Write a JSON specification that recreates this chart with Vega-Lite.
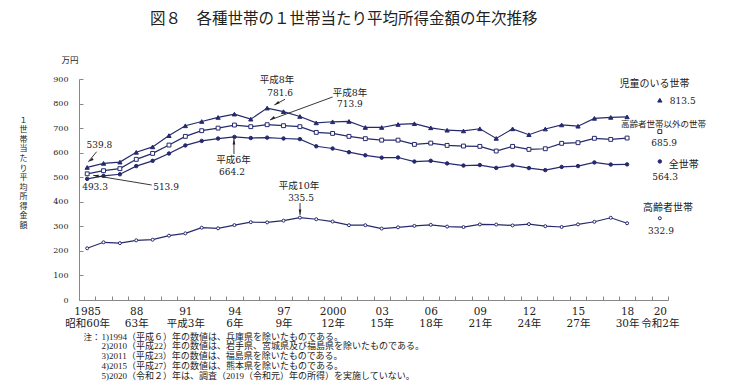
{
  "$schema": "https://vega.github.io/schema/vega-lite/v6.json",
  "width": 589,
  "height": 221,
  "autosize": {"type": "none"},
  "padding": {"left": 79, "top": 79, "right": 84, "bottom": 88},
  "background": "white",
  "config": {
    "view": {"stroke": null},
    "font": "Noto Sans CJK JP",
    "axis": {"labelOverlap": false, "labelFlush": false, "grid": false, "labelBound": false}
  },
  "resolve": {"axis": {"x": "independent", "y": "independent"}},
  "title": {
    "text": "図８　各種世帯の１世帯当たり平均所得金額の年次推移",
    "anchor": "start",
    "frame": "group",
    "dx": 71,
    "offset": 29,
    "fontSize": 15.5,
    "fontWeight": "normal",
    "font": "Noto Sans CJK JP",
    "color": "#222222"
  },
  "datasets": {
    "series": [
      {"year": 1985, "value": 539.8, "series": "児童のいる世帯"},
      {"year": 1986, "value": 556.4, "series": "児童のいる世帯"},
      {"year": 1987, "value": 561.5, "series": "児童のいる世帯"},
      {"year": 1988, "value": 601.5, "series": "児童のいる世帯"},
      {"year": 1989, "value": 623.5, "series": "児童のいる世帯"},
      {"year": 1990, "value": 669.5, "series": "児童のいる世帯"},
      {"year": 1991, "value": 709.5, "series": "児童のいる世帯"},
      {"year": 1992, "value": 727.0, "series": "児童のいる世帯"},
      {"year": 1993, "value": 743.5, "series": "児童のいる世帯"},
      {"year": 1994, "value": 757.0, "series": "児童のいる世帯"},
      {"year": 1995, "value": 736.5, "series": "児童のいる世帯"},
      {"year": 1996, "value": 781.6, "series": "児童のいる世帯"},
      {"year": 1997, "value": 767.1, "series": "児童のいる世帯"},
      {"year": 1998, "value": 747.4, "series": "児童のいる世帯"},
      {"year": 1999, "value": 721.4, "series": "児童のいる世帯"},
      {"year": 2000, "value": 725.8, "series": "児童のいる世帯"},
      {"year": 2001, "value": 727.2, "series": "児童のいる世帯"},
      {"year": 2002, "value": 702.7, "series": "児童のいる世帯"},
      {"year": 2003, "value": 702.6, "series": "児童のいる世帯"},
      {"year": 2004, "value": 714.9, "series": "児童のいる世帯"},
      {"year": 2005, "value": 718.0, "series": "児童のいる世帯"},
      {"year": 2006, "value": 701.2, "series": "児童のいる世帯"},
      {"year": 2007, "value": 691.4, "series": "児童のいる世帯"},
      {"year": 2008, "value": 688.5, "series": "児童のいる世帯"},
      {"year": 2009, "value": 697.3, "series": "児童のいる世帯"},
      {"year": 2010, "value": 658.1, "series": "児童のいる世帯"},
      {"year": 2011, "value": 697.0, "series": "児童のいる世帯"},
      {"year": 2012, "value": 673.2, "series": "児童のいる世帯"},
      {"year": 2013, "value": 696.3, "series": "児童のいる世帯"},
      {"year": 2014, "value": 712.9, "series": "児童のいる世帯"},
      {"year": 2015, "value": 707.8, "series": "児童のいる世帯"},
      {"year": 2016, "value": 739.8, "series": "児童のいる世帯"},
      {"year": 2017, "value": 743.6, "series": "児童のいる世帯"},
      {"year": 2018, "value": 745.9, "series": "児童のいる世帯"},
      {"year": 2020, "value": 813.5, "series": "児童のいる世帯"},
      {"year": 1985, "value": 513.9, "series": "高齢者世帯以外の世帯"},
      {"year": 1986, "value": 526.6, "series": "高齢者世帯以外の世帯"},
      {"year": 1987, "value": 535.0, "series": "高齢者世帯以外の世帯"},
      {"year": 1988, "value": 572.8, "series": "高齢者世帯以外の世帯"},
      {"year": 1989, "value": 597.0, "series": "高齢者世帯以外の世帯"},
      {"year": 1990, "value": 631.0, "series": "高齢者世帯以外の世帯"},
      {"year": 1991, "value": 666.4, "series": "高齢者世帯以外の世帯"},
      {"year": 1992, "value": 689.5, "series": "高齢者世帯以外の世帯"},
      {"year": 1993, "value": 700.0, "series": "高齢者世帯以外の世帯"},
      {"year": 1994, "value": 712.5, "series": "高齢者世帯以外の世帯"},
      {"year": 1995, "value": 705.8, "series": "高齢者世帯以外の世帯"},
      {"year": 1996, "value": 713.9, "series": "高齢者世帯以外の世帯"},
      {"year": 1997, "value": 709.9, "series": "高齢者世帯以外の世帯"},
      {"year": 1998, "value": 705.8, "series": "高齢者世帯以外の世帯"},
      {"year": 1999, "value": 682.6, "series": "高齢者世帯以外の世帯"},
      {"year": 2000, "value": 678.5, "series": "高齢者世帯以外の世帯"},
      {"year": 2001, "value": 666.4, "series": "高齢者世帯以外の世帯"},
      {"year": 2002, "value": 657.0, "series": "高齢者世帯以外の世帯"},
      {"year": 2003, "value": 651.0, "series": "高齢者世帯以外の世帯"},
      {"year": 2004, "value": 651.0, "series": "高齢者世帯以外の世帯"},
      {"year": 2005, "value": 633.7, "series": "高齢者世帯以外の世帯"},
      {"year": 2006, "value": 639.0, "series": "高齢者世帯以外の世帯"},
      {"year": 2007, "value": 629.6, "series": "高齢者世帯以外の世帯"},
      {"year": 2008, "value": 627.0, "series": "高齢者世帯以外の世帯"},
      {"year": 2009, "value": 625.6, "series": "高齢者世帯以外の世帯"},
      {"year": 2010, "value": 606.7, "series": "高齢者世帯以外の世帯"},
      {"year": 2011, "value": 625.6, "series": "高齢者世帯以外の世帯"},
      {"year": 2012, "value": 613.4, "series": "高齢者世帯以外の世帯"},
      {"year": 2013, "value": 616.0, "series": "高齢者世帯以外の世帯"},
      {"year": 2014, "value": 638.0, "series": "高齢者世帯以外の世帯"},
      {"year": 2015, "value": 640.6, "series": "高齢者世帯以外の世帯"},
      {"year": 2016, "value": 658.5, "series": "高齢者世帯以外の世帯"},
      {"year": 2017, "value": 654.0, "series": "高齢者世帯以外の世帯"},
      {"year": 2018, "value": 659.6, "series": "高齢者世帯以外の世帯"},
      {"year": 2020, "value": 685.9, "series": "高齢者世帯以外の世帯"},
      {"year": 1985, "value": 493.3, "series": "全世帯"},
      {"year": 1986, "value": 505.6, "series": "全世帯"},
      {"year": 1987, "value": 512.0, "series": "全世帯"},
      {"year": 1988, "value": 545.3, "series": "全世帯"},
      {"year": 1989, "value": 566.7, "series": "全世帯"},
      {"year": 1990, "value": 596.6, "series": "全世帯"},
      {"year": 1991, "value": 629.5, "series": "全世帯"},
      {"year": 1992, "value": 647.8, "series": "全世帯"},
      {"year": 1993, "value": 657.5, "series": "全世帯"},
      {"year": 1994, "value": 664.2, "series": "全世帯"},
      {"year": 1995, "value": 659.6, "series": "全世帯"},
      {"year": 1996, "value": 661.2, "series": "全世帯"},
      {"year": 1997, "value": 657.7, "series": "全世帯"},
      {"year": 1998, "value": 655.2, "series": "全世帯"},
      {"year": 1999, "value": 626.0, "series": "全世帯"},
      {"year": 2000, "value": 616.9, "series": "全世帯"},
      {"year": 2001, "value": 602.0, "series": "全世帯"},
      {"year": 2002, "value": 589.3, "series": "全世帯"},
      {"year": 2003, "value": 579.7, "series": "全世帯"},
      {"year": 2004, "value": 580.4, "series": "全世帯"},
      {"year": 2005, "value": 563.8, "series": "全世帯"},
      {"year": 2006, "value": 566.8, "series": "全世帯"},
      {"year": 2007, "value": 556.2, "series": "全世帯"},
      {"year": 2008, "value": 547.5, "series": "全世帯"},
      {"year": 2009, "value": 549.6, "series": "全世帯"},
      {"year": 2010, "value": 538.0, "series": "全世帯"},
      {"year": 2011, "value": 548.2, "series": "全世帯"},
      {"year": 2012, "value": 537.2, "series": "全世帯"},
      {"year": 2013, "value": 528.9, "series": "全世帯"},
      {"year": 2014, "value": 541.9, "series": "全世帯"},
      {"year": 2015, "value": 545.4, "series": "全世帯"},
      {"year": 2016, "value": 560.2, "series": "全世帯"},
      {"year": 2017, "value": 551.6, "series": "全世帯"},
      {"year": 2018, "value": 552.3, "series": "全世帯"},
      {"year": 2020, "value": 564.3, "series": "全世帯"},
      {"year": 1985, "value": 210.6, "series": "高齢者世帯"},
      {"year": 1986, "value": 235.0, "series": "高齢者世帯"},
      {"year": 1987, "value": 231.5, "series": "高齢者世帯"},
      {"year": 1988, "value": 243.0, "series": "高齢者世帯"},
      {"year": 1989, "value": 245.6, "series": "高齢者世帯"},
      {"year": 1990, "value": 262.0, "series": "高齢者世帯"},
      {"year": 1991, "value": 271.4, "series": "高齢者世帯"},
      {"year": 1992, "value": 294.5, "series": "高齢者世帯"},
      {"year": 1993, "value": 292.0, "series": "高齢者世帯"},
      {"year": 1994, "value": 305.0, "series": "高齢者世帯"},
      {"year": 1995, "value": 316.9, "series": "高齢者世帯"},
      {"year": 1996, "value": 316.0, "series": "高齢者世帯"},
      {"year": 1997, "value": 323.1, "series": "高齢者世帯"},
      {"year": 1998, "value": 335.5, "series": "高齢者世帯"},
      {"year": 1999, "value": 328.9, "series": "高齢者世帯"},
      {"year": 2000, "value": 319.5, "series": "高齢者世帯"},
      {"year": 2001, "value": 304.6, "series": "高齢者世帯"},
      {"year": 2002, "value": 304.6, "series": "高齢者世帯"},
      {"year": 2003, "value": 290.9, "series": "高齢者世帯"},
      {"year": 2004, "value": 296.1, "series": "高齢者世帯"},
      {"year": 2005, "value": 301.9, "series": "高齢者世帯"},
      {"year": 2006, "value": 306.3, "series": "高齢者世帯"},
      {"year": 2007, "value": 298.9, "series": "高齢者世帯"},
      {"year": 2008, "value": 297.0, "series": "高齢者世帯"},
      {"year": 2009, "value": 307.9, "series": "高齢者世帯"},
      {"year": 2010, "value": 307.2, "series": "高齢者世帯"},
      {"year": 2011, "value": 303.6, "series": "高齢者世帯"},
      {"year": 2012, "value": 309.1, "series": "高齢者世帯"},
      {"year": 2013, "value": 300.5, "series": "高齢者世帯"},
      {"year": 2014, "value": 297.3, "series": "高齢者世帯"},
      {"year": 2015, "value": 308.1, "series": "高齢者世帯"},
      {"year": 2016, "value": 318.6, "series": "高齢者世帯"},
      {"year": 2017, "value": 334.9, "series": "高齢者世帯"},
      {"year": 2018, "value": 312.6, "series": "高齢者世帯"},
      {"year": 2020, "value": 332.9, "series": "高齢者世帯"}
    ],
    "callouts": [
      {"label": "539.8", "kind": "value", "lx": 1985.75, "ly": 631.2},
      {"label": "493.3", "kind": "value", "lx": 1985.48, "ly": 459.0},
      {"label": "513.9", "kind": "value", "lx": 1989.82, "ly": 459.0},
      {"label": "664.2", "kind": "value", "lx": 1993.85, "ly": 522.5},
      {"label": "781.6", "kind": "value", "lx": 1996.79, "ly": 843.0},
      {"label": "713.9", "kind": "value", "lx": 2001.06, "ly": 798.2},
      {"label": "335.5", "kind": "value", "lx": 1998.07, "ly": 415.4},
      {"label": "813.5", "kind": "value", "lx": 2021.4, "ly": 811.6},
      {"label": "685.9", "kind": "value", "lx": 2020.26, "ly": 640.6},
      {"label": "564.3", "kind": "value", "lx": 2020.32, "ly": 499.7},
      {"label": "332.9", "kind": "value", "lx": 2020.07, "ly": 281.0},
      {"label": "平成6年", "kind": "era", "lx": 1993.94, "ly": 570.1},
      {"label": "平成8年", "kind": "era", "lx": 1996.6, "ly": 895.9},
      {"label": "平成8年", "kind": "era", "lx": 2001.06, "ly": 841.7},
      {"label": "平成10年", "kind": "era", "lx": 1997.95, "ly": 464.2},
      {"label": "児童のいる世帯", "kind": "series", "lx": 2019.68, "ly": 879.6},
      {"label": "高齢者世帯以外の世帯", "kind": "series_long", "lx": 2020.23, "ly": 717.0},
      {"label": "全世帯", "kind": "series", "lx": 2021.47, "ly": 549.8},
      {"label": "高齢者世帯", "kind": "series", "lx": 2020.5, "ly": 373.4},
      {"label": "万円", "kind": "unit", "lx": 1983.95, "ly": 977.0},
      {"label": "注：", "kind": "unit", "lx": 1985.3, "ly": -150.7}
    ],
    "arrows": [
      {"id": "a", "x1": 1985.58, "v1": 603.9, "x2": 1985.07, "v2": 563.2},
      {"id": "c", "x1": 1988.94, "v1": 468.3, "x2": 1985.37, "v2": 507.8},
      {"id": "d", "x1": 1993.97, "v1": 594.6, "x2": 1993.97, "v2": 655.6},
      {"id": "e", "x1": 1997.09, "v1": 817.3, "x2": 1996.44, "v2": 794.1},
      {"id": "f", "x1": 2000.0, "v1": 826.7, "x2": 1996.17, "v2": 733.0},
      {"id": "g", "x1": 1998.01, "v1": 395.0, "x2": 1998.01, "v2": 346.1}
    ]
  },
  "layer": [
    {
      "data": {"name": "series"},
      "transform": [{"filter": "datum.year <= 2018"}],
      "mark": {"type": "line", "color": "#262a6c", "strokeWidth": 1.2},
      "encoding": {
        "x": {
          "field": "year",
          "type": "quantitative",
          "scale": {"domain": [1984.5, 2020.5], "nice": false, "zero": false},
          "axis": {
            "orient": "bottom",
            "values": [1984.5, 1985.5, 1986.5, 1987.5, 1988.5, 1989.5, 1990.5, 1991.5, 1992.5, 1993.5, 1994.5, 1995.5, 1996.5, 1997.5, 1998.5, 1999.5, 2000.5, 2001.5, 2002.5, 2003.5, 2004.5, 2005.5, 2006.5, 2007.5, 2008.5, 2009.5, 2010.5, 2011.5, 2012.5, 2013.5, 2014.5, 2015.5, 2016.5, 2017.5, 2018.5, 2019.5, 2020.5],
            "labelExpr": "datum.value==1984.5?['1985','昭和60年']:datum.value==1987.5?['88','63年']:datum.value==1990.5?['91','平成3年']:datum.value==1993.5?['94','6年']:datum.value==1996.5?['97','9年']:datum.value==1999.5?['2000','12年']:datum.value==2002.5?['03','15年']:datum.value==2005.5?['06','18年']:datum.value==2008.5?['09','21年']:datum.value==2011.5?['12','24年']:datum.value==2014.5?['15','27年']:datum.value==2017.5?['18','30年']:datum.value==2019.5?['20','令和2年']:''",
            "labelOffset": 8.18,
            "labelOverlap": false,
            "labelFlush": false,
            "labelFont": "DejaVu Serif, Noto Sans CJK JP",
            "labelFontSize": 10.5,
            "labelLineHeight": 12,
            "labelBaseline": "top",
            "labelPadding": 10,
            "labelColor": "#222222",
            "tickSize": -4,
            "tickColor": "#888888",
            "domainColor": "#888888",
            "grid": false,
            "title": [
              "1)1994（平成６）年の数値は、兵庫県を除いたものである。",
              "2)2010（平成22）年の数値は、岩手県、宮城県及び福島県を除いたものである。",
              "3)2011（平成23）年の数値は、福島県を除いたものである。",
              "4)2015（平成27）年の数値は、熊本県を除いたものである。",
              "5)2020（令和２）年は、調査（2019（令和元）年の所得）を実施していない。"
            ],
            "titleX": 22,
            "titleY": 32,
            "titleAlign": "left",
            "titleAnchor": "start",
            "titleBaseline": "top",
            "titleFont": "Liberation Serif, Noto Sans CJK JP",
            "titleFontSize": 9,
            "titleFontWeight": "normal",
            "titleLineHeight": 9.8,
            "titleColor": "#222222"
          }
        },
        "y": {
          "field": "value",
          "type": "quantitative",
          "scale": {"domain": [0, 900], "nice": false},
          "axis": {
            "orient": "left",
            "values": [0, 100, 200, 300, 400, 500, 600, 700, 800, 900],
            "labelFont": "DejaVu Serif",
            "labelFontSize": 8,
            "labelColor": "#222222",
            "labelPadding": 15,
            "labelFlush": false,
            "labelOverlap": false,
            "tickSize": -4,
            "tickColor": "#888888",
            "domainColor": "#888888",
            "grid": false,
            "title": ["１", "世", "帯", "当", "た", "り", "平", "均", "所", "得", "金", "額"],
            "titleAngle": 0,
            "titleX": -56,
            "titleY": 37,
            "titleAlign": "center",
            "titleBaseline": "top",
            "titleFont": "Liberation Serif, Noto Sans CJK JP",
            "titleFontSize": 8,
            "titleFontWeight": "normal",
            "titleLineHeight": 9.6,
            "titleColor": "#222222"
          }
        },
        "detail": {"field": "series", "type": "nominal"}
      }
    },
    {
      "data": {"name": "series"},
      "mark": {"type": "point", "filled": true, "stroke": "#262a6c", "strokeWidth": 1, "opacity": 1},
      "encoding": {
        "x": {"field": "year", "type": "quantitative", "scale": {"domain": [1984.5, 2020.5], "nice": false, "zero": false}, "axis": null},
        "y": {"field": "value", "type": "quantitative", "scale": {"domain": [0, 900], "nice": false}, "axis": null},
        "shape": {"field": "series", "type": "nominal", "scale": {"domain": ["児童のいる世帯", "高齢者世帯以外の世帯", "全世帯", "高齢者世帯"], "range": ["triangle-up", "square", "circle", "circle"]}, "legend": null},
        "fill": {"field": "series", "type": "nominal", "scale": {"domain": ["児童のいる世帯", "高齢者世帯以外の世帯", "全世帯", "高齢者世帯"], "range": ["#262a6c", "#ffffff", "#262a6c", "#ffffff"]}, "legend": null},
        "size": {"field": "series", "type": "nominal", "scale": {"domain": ["児童のいる世帯", "高齢者世帯以外の世帯", "全世帯", "高齢者世帯"], "range": [18, 9, 11, 11]}, "legend": null}
      }
    },
    {
      "data": {"name": "arrows"},
      "mark": {"type": "rule", "color": "#222222", "strokeWidth": 0.9},
      "encoding": {
        "x": {"field": "x1", "type": "quantitative", "scale": {"domain": [1984.5, 2020.5], "nice": false, "zero": false}, "axis": null},
        "y": {"field": "v1", "type": "quantitative", "scale": {"domain": [0, 900], "nice": false}, "axis": null},
        "x2": {"field": "x2"},
        "y2": {"field": "v2"}
      }
    },
    {
      "data": {"name": "arrows"},
      "transform": [{"filter": "indexof(['a','e','f'], datum.id) >= 0"}],
      "mark": {"type": "point", "shape": "M0,0L0.45,1.8L-0.45,1.8Z", "filled": true, "color": "#222222", "size": 36, "angle": 238, "opacity": 1},
      "encoding": {
        "x": {"field": "x2", "type": "quantitative", "scale": {"domain": [1984.5, 2020.5], "nice": false, "zero": false}, "axis": null},
        "y": {"field": "v2", "type": "quantitative", "scale": {"domain": [0, 900], "nice": false}, "axis": null}
      }
    },
    {
      "data": {"name": "arrows"},
      "transform": [{"filter": "datum.id == 'c'"}],
      "mark": {"type": "point", "shape": "M0,0L0.45,1.8L-0.45,1.8Z", "filled": true, "color": "#222222", "size": 36, "angle": 279, "opacity": 1},
      "encoding": {
        "x": {"field": "x2", "type": "quantitative", "scale": {"domain": [1984.5, 2020.5], "nice": false, "zero": false}, "axis": null},
        "y": {"field": "v2", "type": "quantitative", "scale": {"domain": [0, 900], "nice": false}, "axis": null}
      }
    },
    {
      "data": {"name": "arrows"},
      "transform": [{"filter": "datum.id == 'd'"}],
      "mark": {"type": "point", "shape": "M0,0L0.45,1.8L-0.45,1.8Z", "filled": true, "color": "#222222", "size": 36, "angle": 0, "opacity": 1},
      "encoding": {
        "x": {"field": "x2", "type": "quantitative", "scale": {"domain": [1984.5, 2020.5], "nice": false, "zero": false}, "axis": null},
        "y": {"field": "v2", "type": "quantitative", "scale": {"domain": [0, 900], "nice": false}, "axis": null}
      }
    },
    {
      "data": {"name": "arrows"},
      "transform": [{"filter": "datum.id == 'g'"}],
      "mark": {"type": "point", "shape": "M0,0L0.45,1.8L-0.45,1.8Z", "filled": true, "color": "#222222", "size": 36, "angle": 180, "opacity": 1},
      "encoding": {
        "x": {"field": "x2", "type": "quantitative", "scale": {"domain": [1984.5, 2020.5], "nice": false, "zero": false}, "axis": null},
        "y": {"field": "v2", "type": "quantitative", "scale": {"domain": [0, 900], "nice": false}, "axis": null}
      }
    },
    {
      "data": {"name": "callouts"},
      "transform": [{"filter": "datum.kind == 'value'"}],
      "mark": {"type": "text", "font": "DejaVu Serif", "fontSize": 9, "color": "#222222", "align": "center", "baseline": "middle"},
      "encoding": {
        "x": {"field": "lx", "type": "quantitative", "scale": {"domain": [1984.5, 2020.5], "nice": false, "zero": false}, "axis": null},
        "y": {"field": "ly", "type": "quantitative", "scale": {"domain": [0, 900], "nice": false}, "axis": null},
        "text": {"field": "label"}
      }
    },
    {
      "data": {"name": "callouts"},
      "transform": [{"filter": "datum.kind == 'era'"}],
      "mark": {"type": "text", "font": "DejaVu Serif, Noto Sans CJK JP", "fontSize": 9.5, "color": "#222222", "align": "center", "baseline": "middle"},
      "encoding": {
        "x": {"field": "lx", "type": "quantitative", "scale": {"domain": [1984.5, 2020.5], "nice": false, "zero": false}, "axis": null},
        "y": {"field": "ly", "type": "quantitative", "scale": {"domain": [0, 900], "nice": false}, "axis": null},
        "text": {"field": "label"}
      }
    },
    {
      "data": {"name": "callouts"},
      "transform": [{"filter": "datum.kind == 'series'"}],
      "mark": {"type": "text", "font": "Noto Sans CJK JP", "fontSize": 10, "color": "#222222", "align": "center", "baseline": "middle"},
      "encoding": {
        "x": {"field": "lx", "type": "quantitative", "scale": {"domain": [1984.5, 2020.5], "nice": false, "zero": false}, "axis": null},
        "y": {"field": "ly", "type": "quantitative", "scale": {"domain": [0, 900], "nice": false}, "axis": null},
        "text": {"field": "label"}
      }
    },
    {
      "data": {"name": "callouts"},
      "transform": [{"filter": "datum.kind == 'series_long' || datum.kind == 'unit'"}],
      "mark": {"type": "text", "font": "Noto Sans CJK JP", "fontSize": 8.5, "color": "#222222", "align": "center", "baseline": "middle"},
      "encoding": {
        "x": {"field": "lx", "type": "quantitative", "scale": {"domain": [1984.5, 2020.5], "nice": false, "zero": false}, "axis": null},
        "y": {"field": "ly", "type": "quantitative", "scale": {"domain": [0, 900], "nice": false}, "axis": null},
        "text": {"field": "label"}
      }
    }
  ]
}
